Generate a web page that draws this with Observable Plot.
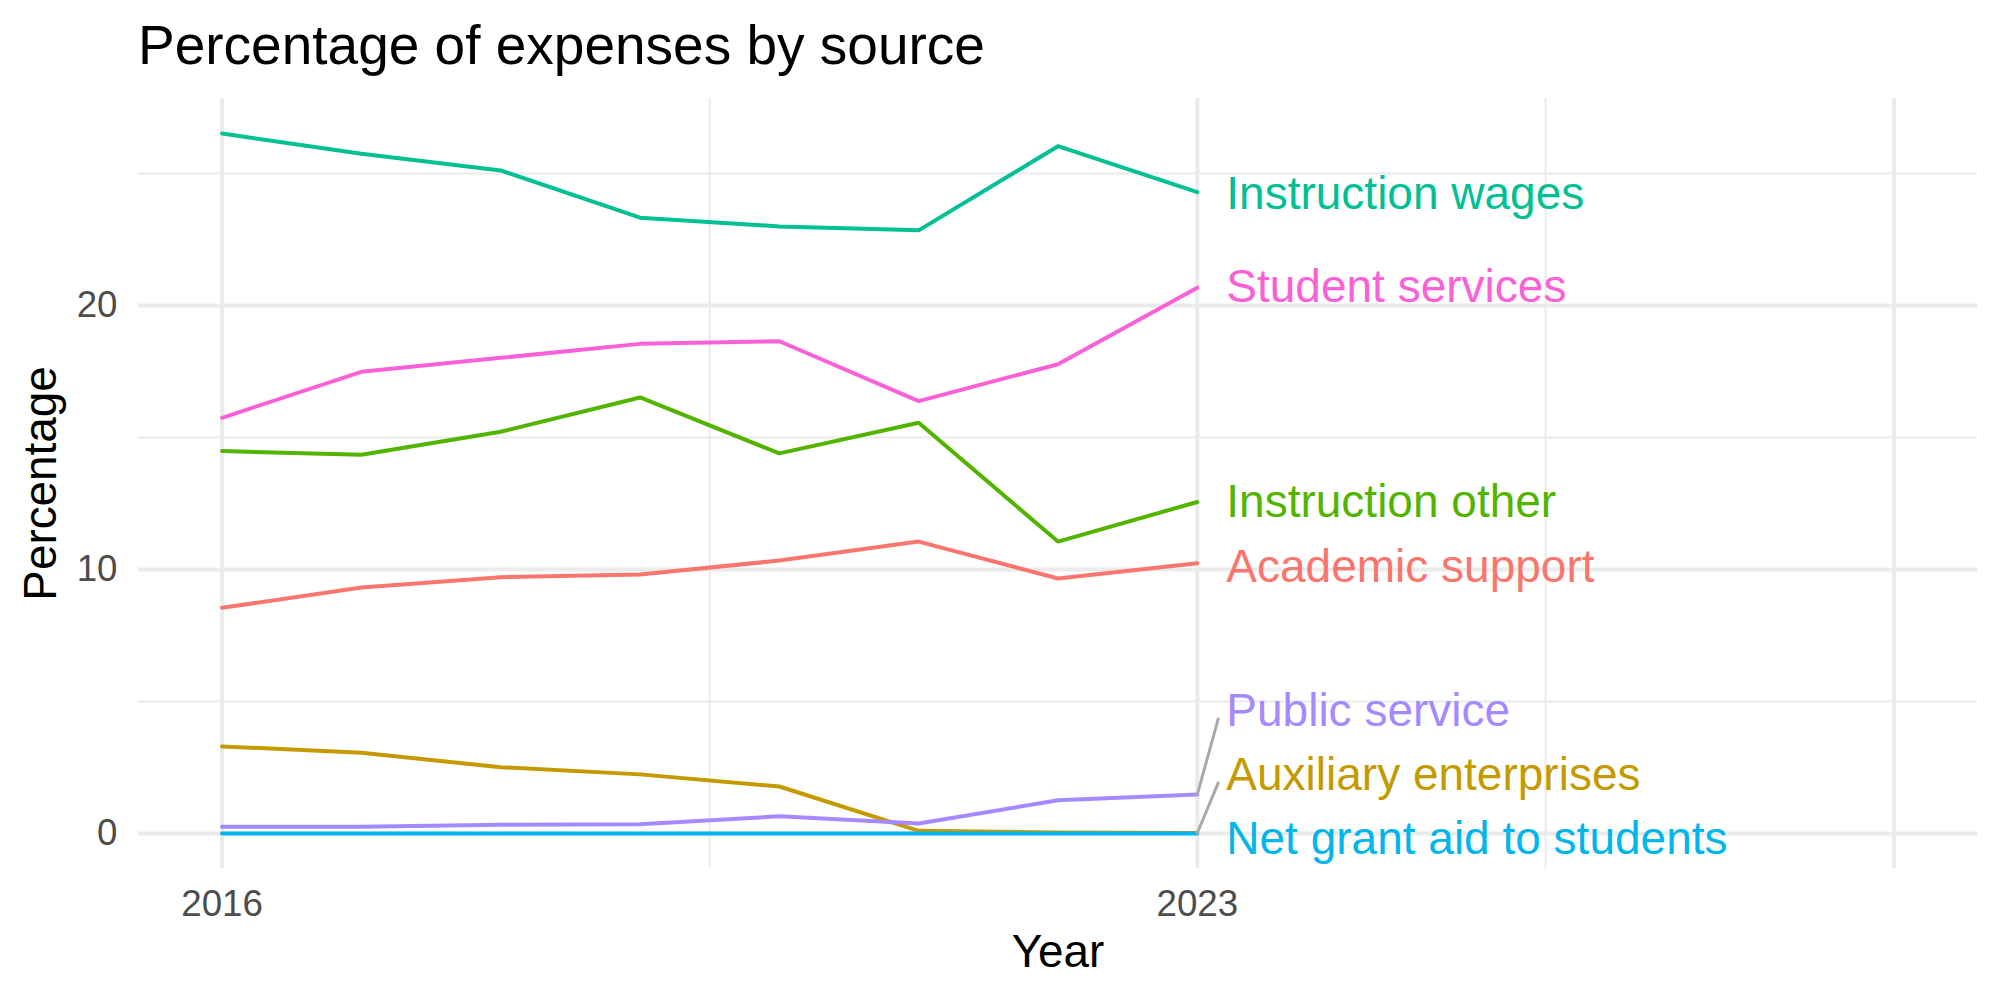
<!DOCTYPE html>
<html>
<head>
<meta charset="utf-8">
<script src="https://cdn.jsdelivr.net/npm/d3@7"></script>
<script src="https://cdn.jsdelivr.net/npm/@observablehq/plot@0.6"></script>
<style>
  body { margin: 0; background: #fff; font-family: "Liberation Sans", Arial, Helvetica, sans-serif; }
  #title { height: 80px; line-height: 90px; font-size: 55px; padding-left: 138px; color: #000; white-space: nowrap; }
  #chart svg { display: block; }
</style>
</head>
<body>
<div id="title">Percentage of expenses by source</div>
<div id="chart"></div>
<script>
// ---- data ----
const years = [2016, 2017, 2018, 2019, 2020, 2021, 2022, 2023];
const academicSupport      = [8.55, 9.32, 9.71, 9.81, 10.34, 11.06, 9.66, 10.24];
const auxiliaryEnterprises = [3.30, 3.06, 2.51, 2.24, 1.78, 0.10, 0.04, 0.02];
const instructionOther     = [14.49, 14.35, 15.22, 16.52, 14.40, 15.56, 11.06, 12.56];
const instructionWages     = [26.52, 25.75, 25.12, 23.33, 23.00, 22.85, 26.04, 24.30];
const netGrantAid          = [0, 0, 0, 0, 0, 0, 0, 0];
const publicService        = [0.26, 0.26, 0.33, 0.35, 0.65, 0.38, 1.26, 1.48];
const studentServices      = [15.75, 17.49, 18.02, 18.55, 18.65, 16.38, 17.78, 20.68];

const sources = ["Academic support", "Auxiliary enterprises", "Instruction other", "Instruction wages",
                 "Net grant aid to students", "Public service", "Student services"];
const seriesValues = [academicSupport, auxiliaryEnterprises, instructionOther, instructionWages,
                      netGrantAid, publicService, studentServices];
const colors = ["#F8766D", "#C49A00", "#53B400", "#00C094", "#00B6EB", "#A58AFF", "#FB61D7"];
// repelled label positions (percentage units) as placed in the reference
const labelY = [10.1, 2.22, 12.56, 24.2, -0.2, 4.64, 20.68];

const xTickLabels = [2016, 2023];
const xMajorGrid = [2016, 2023, 2028];
const xMinorGrid = [2019.5, 2025.5];
const yMajorGrid = [0, 10, 20];
const yMinorGrid = [5, 15, 25];

// ---- build tables ----
const data = years.flatMap((year, i) => sources.map((source, j) => ({year, source, value: seriesValues[j][i]})));
const lastYear = years[years.length - 1];
const labels = sources.map((source, j) => ({
  source, year: lastYear, value: seriesValues[j][years.length - 1], labelY: labelY[j]
}));
const segmentGap = 0.15;
const segments = labels.filter(d => Math.abs(d.labelY - d.value) > 1).map(d => ({...d, yEnd: d.labelY - 0.3}));

const font = "'Liberation Sans', Arial, Helvetica, sans-serif";

const chart = Plot.plot({
  width: 2000,
  height: 920,
  marginTop: 18,
  marginBottom: 132,
  marginLeft: 138,
  marginRight: 23,
  style: {fontFamily: font, background: "#fff"},
  x: {domain: [2015.4, 2028.6]},
  y: {domain: [-1.326, 27.846]},
  color: {domain: sources, range: colors},
  marks: [
    Plot.ruleY(yMinorGrid, {stroke: "#EBEBEB", strokeWidth: 2}),
    Plot.ruleX(xMinorGrid, {stroke: "#EBEBEB", strokeWidth: 2}),
    Plot.ruleY(yMajorGrid, {stroke: "#EBEBEB", strokeWidth: 4}),
    Plot.ruleX(xMajorGrid, {stroke: "#EBEBEB", strokeWidth: 4}),
    Plot.axisY(yMajorGrid, {tickSize: 0, tickPadding: 21, fontSize: 36.7, fill: "#4D4D4D", label: null}),
    Plot.axisX(xTickLabels, {tickSize: 0, tickPadding: 21, fontSize: 36.7, fill: "#4D4D4D", label: null, tickFormat: d => String(d)}),
    Plot.line(data, {x: "year", y: "value", z: "source", stroke: "source", strokeWidth: 4, strokeLinejoin: "round"}),
    Plot.link(segments, {x1: "year", y1: "value", x2: d => d.year + segmentGap, y2: "yEnd", stroke: "#A9A9A9", strokeWidth: 3, strokeLinecap: "round"}),
    Plot.text(labels, {x: "year", y: "labelY", text: "source", fill: "source", textAnchor: "start", lineAnchor: "middle", dx: 29, fontSize: 46}),
    Plot.text(["Year"], {text: d => d, frameAnchor: "bottom", dy: 98, lineAnchor: "bottom", fontSize: 45.8, fill: "#000"}),
    Plot.text(["Percentage"], {text: d => d, frameAnchor: "left", dx: -83, rotate: -90, textAnchor: "middle", lineAnchor: "bottom", fontSize: 45.8, fill: "#000"})
  ]
});
document.getElementById("chart").appendChild(chart);
</script>
</body>
</html>
